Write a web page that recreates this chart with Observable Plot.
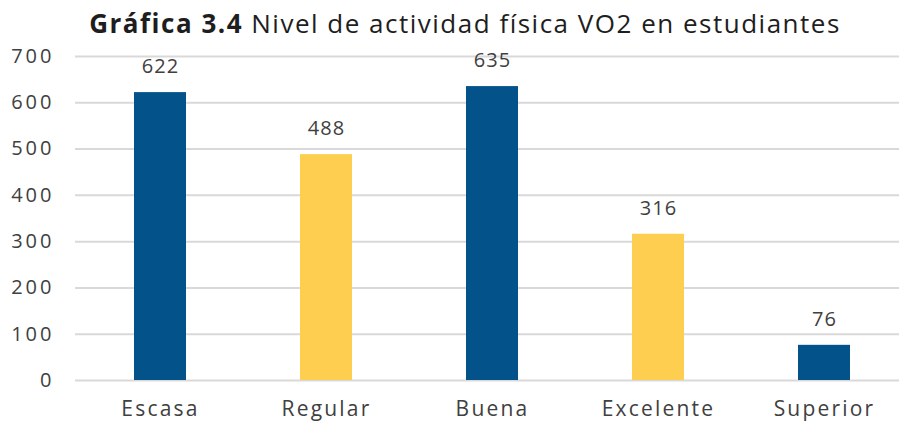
<!DOCTYPE html>
<html>
<head>
<meta charset="utf-8">
<script src="https://cdn.jsdelivr.net/npm/d3@7"></script>
<script src="https://cdn.jsdelivr.net/npm/@observablehq/plot@0.6"></script>
<style>
  html, body { margin: 0; padding: 0; background: #fff; }
  body { position: relative; width: 899px; height: 423px; }
  #title { position: absolute; top: 0; left: 0; z-index: 2; height: 44px; width: 899px; text-align: center; font-family: "Open Sans", Lato, sans-serif; font-size: 26px; letter-spacing: 1.5px; color: #1e1e1e; line-height: 46px; padding-left: 31px; box-sizing: border-box; white-space: nowrap; }
  #title b { font-weight: 700; }
  #chart { padding-top: 30px; }
  svg { display: block; }
  svg text { letter-spacing: 1px; }
</style>
</head>
<body>
<div id="title"><b>Gráfica 3.4</b> Nivel de actividad física VO2 en estudiantes</div>
<div id="chart"></div>
<script>
const categories = ["Escasa", "Regular", "Buena", "Excelente", "Superior"];
const values = [622, 488, 635, 316, 76];
const colors = ["#03528A", "#FDCE4F", "#03528A", "#FDCE4F", "#03528A"];
const yTicks = [0, 100, 200, 300, 400, 500, 600, 700];

const data = categories.map((c, i) => ({category: c, value: values[i], color: colors[i]}));

const chart = Plot.plot({
  width: 899,
  height: 393,
  marginLeft: 75,
  marginRight: 0,
  marginTop: 26,
  marginBottom: 43,
  style: {fontFamily: "'Open Sans', Lato, sans-serif", color: "#404040", background: "transparent"},
  x: {domain: categories, range: [76, 909], paddingInner: 0.685, paddingOuter: 0.3425, label: null},
  y: {domain: [0, 700], label: null},
  marks: [
    Plot.gridY(yTicks, {stroke: "#d9d9d9", strokeOpacity: 1, strokeWidth: 2}),
    Plot.barY(data, {x: "category", y: "value", fill: "color"}),
    Plot.text(data, {x: "category", y: "value", text: d => String(d.value), dy: -26, fontSize: 20, fill: "#404040"}),
    Plot.axisY(yTicks, {tickSize: 0, tickPadding: 21, fontSize: 20, tickFormat: d => String(d)}),
    Plot.axisX({tickSize: 0, tickPadding: 21, fontSize: 21})
  ]
});
d3.select(chart).selectAll('g[aria-label="y-axis tick label"] text').style("letter-spacing", "3px");
d3.select(chart).selectAll('g[aria-label="x-axis tick label"] text').style("letter-spacing", "2.2px");
document.getElementById("chart").appendChild(chart);
</script>
</body>
</html>
